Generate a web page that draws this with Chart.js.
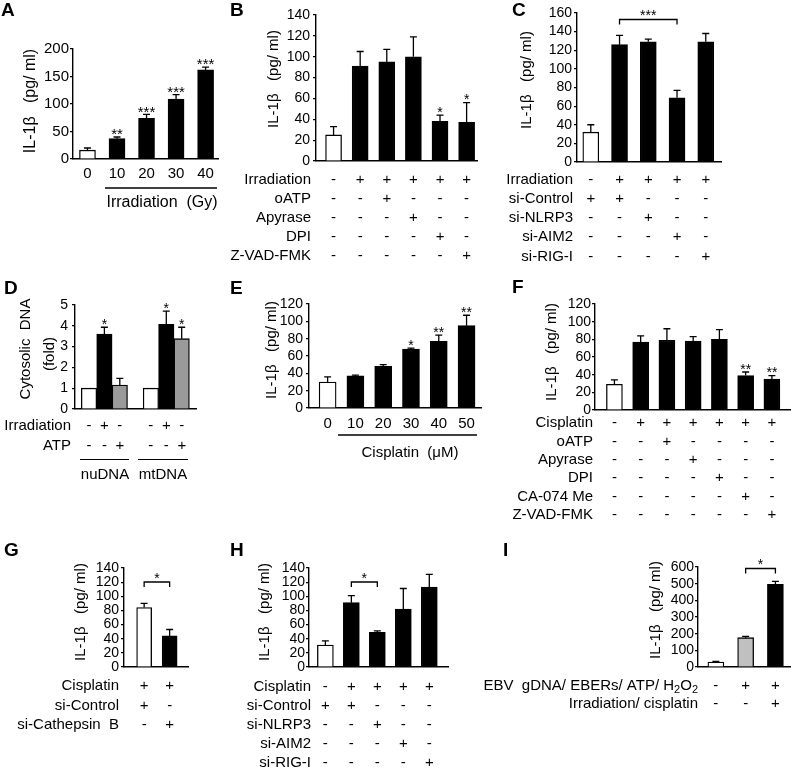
<!DOCTYPE html>
<html>
<head>
<meta charset="utf-8">
<script src="https://cdn.jsdelivr.net/npm/chart.js@4.4.1/dist/chart.umd.min.js"></script>
<style>
  html, body { margin: 0; padding: 0; background: #fff; }
  #figure { position: relative; width: 791px; height: 771px; overflow: hidden; background: #fff; }
  #figure canvas { position: absolute; left: 0; top: 0; }
  .rule { position: absolute; height: 0; border-top: 1px solid #000; z-index: 9; }
  .grp { position: absolute; width: 80px; text-align: center; font: 15px 'Liberation Sans', Arial, sans-serif; line-height: 18px; color: #000; z-index: 9; }
  #pad { position: absolute; left: 0; top: 746px; width: 200px; height: 24px; background: #fff; z-index: 9; }
</style>
</head>
<body>
<div id="figure"></div>
<script>
// ---------- values ----------
// A: irradiation dose (Gy)
const doseLabels = ['0', '10', '20', '30', '40'];
const doseIL1b = [16, 37, 74, 109, 162];
const doseErr = [4, 3, 7, 8, 5];
const doseSig = ['', '**', '***', '***', '***'];
// B: irradiation + inhibitors
const bIL1b = [25, 91, 95, 100, 38, 37];
const bErr = [8, 14, 12, 19, 6, 19];
const bSig = ['', '', '', '', '*', '*'];
const bRowNames = ['Irradiation', 'oATP', 'Apyrase', 'DPI', 'Z-VAD-FMK'];
const bRows = ['-+++++', '--+---', '---+--', '----+-', '-----+'];
// C: irradiation + siRNA
const cIL1b = [32, 126, 129, 69, 129];
const cErr = [8, 10, 3, 8, 9];
const cRowNames = ['Irradiation', 'si-Control', 'si-NLRP3', 'si-AIM2', 'si-RIG-I'];
const cRows = ['-++++', '++---', '--+--', '---+-', '----+'];
const cBracket = [2, 4, '***'];
// D: cytosolic DNA (fold)
const dGroups = ['nuDNA', 'mtDNA'];
const dControl = [1, 1];
const dIrr = [3.6, 4.07];
const dIrrErr = [0.33, 0.64];
const dIrrSig = ['*', '*'];
const dAtp = [1.15, 3.38];
const dAtpErr = [0.32, 0.55];
const dAtpSig = ['', '*'];
const dRowNames = ['Irradiation', 'ATP'];
const dRows = ['-+--+-', '--+--+'];
// E: cisplatin dose (uM)
const cisLabels = ['0', '10', '20', '30', '40', '50'];
const eIL1b = [30, 37, 48, 68, 77, 95];
const eErr = [6, 1, 2, 1, 7, 12];
const eSig = ['', '', '', '*', '**', '**'];
// F: cisplatin + inhibitors
const fIL1b = [29, 77, 79, 78, 80, 39, 35];
const fErr = [5, 7, 13, 5, 11, 4, 4];
const fSig = ['', '', '', '', '', '**', '**'];
const fRowNames = ['Cisplatin', 'oATP', 'Apyrase', 'DPI', 'CA-074 Me', 'Z-VAD-FMK'];
const fRows = ['-++++++', '--+----', '---+---', '----+--', '-----+-', '------+'];
// G: cathepsin B knockdown
const gIL1b = [84, 44];
const gErr = [6, 9];
const gRowNames = ['Cisplatin', 'si-Control', 'si-Cathepsin  B'];
const gRows = ['++', '+-', '-+'];
const gBracket = [1, 2, '*'];
// H: cisplatin + siRNA
const hIL1b = [31, 91, 49, 82, 113];
const hErr = [6, 10, 2, 29, 18];
const hRowNames = ['Cisplatin', 'si-Control', 'si-NLRP3', 'si-AIM2', 'si-RIG-I'];
const hRows = ['-++++', '++---', '--+--', '---+-', '----+'];
const hBracket = [2, 3, '*'];
// I: EBV components
const iIL1b = [30, 176, 496];
const iErr = [4, 8, 18];
const iRowNames = ['EBV  gDNA/ EBERs/ ATP/ H₂O₂', 'Irradiation/ cisplatin'];
const iRows = ['-++', '--+'];
const iBracket = [2, 3, '*'];

// ---------- drawing ----------
const W = 791, H = 771, YBOX = 40;
const FONT = "'Liberation Sans', Arial, Helvetica, sans-serif";
const BLACK = '#000', WHITE = '#fff';
Chart.defaults.font.family = FONT;
Chart.defaults.color = BLACK;
const fig = document.getElementById('figure');
const charts = [];

function idx(arr) { return arr.map((v, i) => i + 1); }

function series(values, errors, stars, fills, xs) {
  return {
    data: values.map((v, i) => ({ x: xs ? xs[i] : i + 1, y: v })),
    errors, stars,
    backgroundColor: fills, borderColor: BLACK, borderWidth: 1.3
  };
}

// right aligned label, unicode subscript digits drawn small and lowered
function drawRich(ctx, text, xRight, y, size) {
  const subs = '₀₁₂₃₄₅₆₇₈₉';
  const parts = [];
  for (const ch of text) {
    const k = subs.indexOf(ch);
    if (k >= 0) parts.push({ t: String(k), sub: true });
    else if (parts.length && !parts[parts.length - 1].sub) parts[parts.length - 1].t += ch;
    else parts.push({ t: ch, sub: false });
  }
  const subSize = Math.round(size * 0.7);
  let total = 0;
  parts.forEach(p => { ctx.font = (p.sub ? subSize : size) + 'px ' + FONT; p.w = ctx.measureText(p.t).width; total += p.w; });
  let x = xRight - total;
  ctx.textAlign = 'left';
  ctx.textBaseline = 'middle';
  parts.forEach(p => {
    ctx.font = (p.sub ? subSize : size) + 'px ' + FONT;
    ctx.fillText(p.t, x, p.sub ? y + 4 : y);
    x += p.w;
  });
}

function extras(p) {
  return {
    id: 'extras',
    afterDatasetsDraw(chart) {
      const ctx = chart.ctx, xs = chart.scales.x, ys = chart.scales.y;
      const starSize = p.starSize || 14;
      ctx.save();
      ctx.strokeStyle = BLACK;
      ctx.fillStyle = BLACK;
      ctx.lineWidth = 1.3;

      // upper error bars + stars
      chart.data.datasets.forEach((ds, di) => {
        chart.getDatasetMeta(di).data.forEach((bar, i) => {
          let top = bar.y;
          const err = ds.errors ? ds.errors[i] : 0;
          if (err) {
            top = ys.getPixelForValue(ds.data[i].y + err);
            ctx.beginPath();
            ctx.moveTo(bar.x, bar.y); ctx.lineTo(bar.x, top);
            ctx.moveTo(bar.x - 3.5, top); ctx.lineTo(bar.x + 3.5, top);
            ctx.stroke();
          }
          const star = ds.stars ? ds.stars[i] : '';
          if (star) {
            ctx.font = starSize + 'px ' + FONT;
            ctx.textAlign = 'center';
            ctx.textBaseline = 'alphabetic';
            ctx.fillText(star, bar.x, top - 4 + 0.42 * starSize);
          }
        });
      });

      if (p.bracket) {
        const [from, to, label] = p.bracket.pair;
        const x1 = xs.getPixelForValue(from), x2 = xs.getPixelForValue(to), y = p.bracket.y;
        ctx.beginPath();
        ctx.moveTo(x1, y + 5); ctx.lineTo(x1, y); ctx.lineTo(x2, y); ctx.lineTo(x2, y + 5);
        ctx.stroke();
        ctx.font = starSize + 'px ' + FONT;
        ctx.textAlign = 'center';
        ctx.textBaseline = 'alphabetic';
        ctx.fillText(label, (x1 + x2) / 2, y - 5 + 0.42 * starSize);
      }

      (p.titles || []).forEach(t => {
        ctx.save();
        ctx.translate(t.x, t.y);
        ctx.rotate(-Math.PI / 2);
        ctx.font = (t.size || 15) + 'px ' + FONT;
        ctx.textAlign = 'center';
        ctx.textBaseline = 'middle';
        ctx.fillText(t.text, 0, 0);
        ctx.restore();
      });

      // treatment +/- table
      if (p.rows) {
        p.rows.names.forEach((name, r) => {
          const y = p.rows.y[r];
          drawRich(ctx, name, p.rows.labelX, y, 15);
          ctx.font = '15px ' + FONT;
          ctx.textAlign = 'center';
          ctx.textBaseline = 'middle';
          p.rows.signs[r].split('').forEach((s, k) => ctx.fillText(s, xs.getPixelForValue(p.positions[k]), y));
        });
      }

      (p.lines || []).forEach(l => {
        ctx.beginPath(); ctx.moveTo(l[0], l[1]); ctx.lineTo(l[2], l[3]); ctx.stroke();
      });
      (p.texts || []).forEach(t => {
        ctx.font = (t.size || 15) + 'px ' + FONT;
        ctx.textAlign = t.align || 'center';
        ctx.textBaseline = 'middle';
        ctx.fillText(t.text, t.x, t.y);
      });

      ctx.font = 'bold 19px ' + FONT;
      ctx.textAlign = 'left';
      ctx.textBaseline = 'middle';
      ctx.fillText(p.letter, p.letterXY[0], p.letterXY[1]);
      ctx.restore();
    }
  };
}

function makePanel(p) {
  const canvas = document.createElement('canvas');
  canvas.width = W;
  canvas.height = H;
  fig.appendChild(canvas);
  const [L, T, R, B] = p.area;
  const xBox = p.xLabels ? 30 : 0;
  p.datasets.forEach(ds => { ds.barThickness = p.barW; });
  const chart = new Chart(canvas, {
    type: 'bar',
    data: { datasets: p.datasets },
    options: {
      responsive: false,
      animation: false,
      events: [],
      layout: { padding: { left: L - YBOX, top: T, right: W - R, bottom: H - B - xBox } },
      plugins: { legend: { display: false }, tooltip: { enabled: false } },
      scales: {
        x: {
          type: 'linear', min: p.xMin, max: p.xMax, offset: false, bounds: 'data',
          grid: { display: false, drawTicks: false, offset: false },
          border: { color: BLACK, width: 1.4 },
          ticks: {
            display: !!p.xLabels, color: BLACK, font: { size: 15 }, padding: p.xTickPad || 6,
            maxRotation: 0, autoSkip: false,
            callback: v => (p.xLabels ? p.xLabels[v - 1] : '')
          },
          afterBuildTicks: s => { s.ticks = p.positions.map(v => ({ value: v })); },
          afterFit: s => { s.height = xBox; }
        },
        y: {
          min: 0, max: p.yMax,
          ticks: { stepSize: p.yStep, autoSkip: false, color: BLACK, font: { size: p.yTickSize || 14 }, padding: p.yTickPad },
          grid: { drawOnChartArea: false, tickLength: 3, color: BLACK, lineWidth: 1.2 },
          border: { color: BLACK, width: 1.4 },
          afterFit: s => { s.width = YBOX; }
        }
      }
    },
    plugins: [extras(p)]
  });
  charts.push(chart);
  return chart;
}

const ilTitle = 'IL-1β   (pg/ ml)';
const oneWhite = n => [WHITE].concat(Array(n - 1).fill(BLACK));
const dSlot = (k) => dGroups.map((g, gi) => gi * 4 + k);

makePanel({
  letter: 'A', letterXY: [1, 11], area: [73, 49, 218, 159], xMin: 0.51, xMax: 5.42,
  yMax: 200, yStep: 50, yTickSize: 15, yTickPad: 1, barW: 16, starSize: 15,
  datasets: [series(doseIL1b, doseErr, doseSig, oneWhite(doseIL1b.length))],
  positions: idx(doseLabels), xLabels: doseLabels, xTickPad: 6,
  titles: [{ text: ilTitle, x: 31, y: 101, size: 16 }],
  lines: [[105, 188, 217, 188]],
  texts: [{ text: 'Irradiation  (Gy)', x: 162, y: 203, size: 16 }]
});

makePanel({
  letter: 'B', letterXY: [230, 11], area: [316, 15, 477, 161], xMin: 0.34, xMax: 6.39,
  yMax: 140, yStep: 20, yTickPad: 3, barW: 16,
  datasets: [series(bIL1b, bErr, bSig, oneWhite(bIL1b.length))], positions: idx(bIL1b),
  rows: { names: bRowNames, signs: bRows, y: [180, 199, 218, 237, 256], labelX: 311 },
  titles: [{ text: ilTitle, x: 274, y: 79 }]
});

makePanel({
  letter: 'C', letterXY: [512, 11], area: [577, 13, 721, 162], xMin: 0.52, xMax: 5.53,
  yMax: 160, yStep: 20, yTickPad: 2, barW: 16,
  datasets: [series(cIL1b, cErr, null, oneWhite(cIL1b.length))], positions: idx(cIL1b),
  bracket: { pair: cBracket, y: 19.5 },
  rows: { names: cRowNames, signs: cRows, y: [180, 199, 218, 237, 256.5], labelX: 573 },
  titles: [{ text: ilTitle, x: 527, y: 80 }]
});

makePanel({
  letter: 'D', letterXY: [4, 289], area: [75, 305, 196, 409], xMin: 0.1, xMax: 7.92,
  yMax: 5, yStep: 1, yTickPad: 4, barW: 15.4,
  datasets: [
    series(dControl, null, null, WHITE, dSlot(2)),
    series(dIrr, dIrrErr, dIrrSig, BLACK, dSlot(2)),
    series(dAtp, dAtpErr, dAtpSig, '#9a9a9a', dSlot(2))
  ],
  positions: [1, 2, 3, 5, 6, 7],
  rows: { names: dRowNames, signs: dRows, y: [426, 446], labelX: 71 },
  titles: [{ text: 'Cytosolic  DNA', x: 26, y: 349 }, { text: '(fold)', x: 50, y: 354 }]
});

makePanel({
  letter: 'E', letterXY: [230, 289], area: [309, 304, 481, 408], xMin: 0.33, xMax: 6.52,
  yMax: 120, yStep: 20, yTickPad: 3, barW: 17,
  datasets: [series(eIL1b, eErr, eSig, oneWhite(eIL1b.length))],
  positions: idx(cisLabels), xLabels: cisLabels, xTickPad: 7,
  titles: [{ text: ilTitle, x: 272, y: 350 }],
  lines: [[338, 435, 477, 435]],
  texts: [{ text: 'Cisplatin  (μM)', x: 410, y: 453 }]
});

makePanel({
  letter: 'F', letterXY: [512, 288], area: [595, 304, 790, 410], xMin: 0.26, xMax: 7.69,
  yMax: 120, yStep: 20, yTickPad: 1, barW: 16,
  datasets: [series(fIL1b, fErr, fSig, oneWhite(fIL1b.length))], positions: idx(fIL1b),
  rows: { names: fRowNames, signs: fRows, y: [423, 442, 460, 478, 497, 515], labelX: 593 },
  titles: [{ text: ilTitle, x: 552, y: 352 }]
});

makePanel({
  letter: 'G', letterXY: [4, 551], area: [124, 568, 188, 667], xMin: 0.21, xMax: 2.72,
  yMax: 140, yStep: 20, yTickPad: 2, barW: 15,
  datasets: [series(gIL1b, gErr, null, [WHITE, BLACK])], positions: idx(gIL1b),
  bracket: { pair: gBracket, y: 582 },
  rows: { names: gRowNames, signs: gRows, y: [686, 706, 725], labelX: 119 },
  titles: [{ text: ilTitle, x: 81, y: 612 }]
});

makePanel({
  letter: 'H', letterXY: [230, 551], area: [309, 568, 448, 667], xMin: 0.37, xMax: 5.72,
  yMax: 140, yStep: 20, yTickPad: 1, barW: 16,
  datasets: [series(hIL1b, hErr, null, oneWhite(hIL1b.length))], positions: idx(hIL1b),
  bracket: { pair: hBracket, y: 582 },
  rows: { names: hRowNames, signs: hRows, y: [687, 706, 725, 744, 763], labelX: 311 },
  titles: [{ text: ilTitle, x: 265, y: 612 }]
});

makePanel({
  letter: 'I', letterXY: [503, 551], area: [698, 567, 790, 667], xMin: 0.4, xMax: 3.49,
  yMax: 600, yStep: 100, yTickPad: 1, barW: 16,
  datasets: [series(iIL1b, iErr, null, [WHITE, '#c0c0c0', BLACK])], positions: idx(iIL1b),
  bracket: { pair: iBracket, y: 568.5 },
  rows: { names: iRowNames, signs: iRows, y: [686, 704], labelX: 698 },
  titles: [{ text: ilTitle, x: 656, y: 610 }]
});

// D group captions under the +/- table, as page text
const dRule = [[80, 49], [138, 50]];
const dCapX = [105, 163];
dGroups.forEach((g, gi) => {
  const rule = document.createElement('div');
  rule.className = 'rule';
  rule.style.left = dRule[gi][0] + 'px';
  rule.style.top = '459px';
  rule.style.width = dRule[gi][1] + 'px';
  fig.appendChild(rule);
  const cap = document.createElement('div');
  cap.className = 'grp';
  cap.textContent = g;
  cap.style.left = (dCapX[gi] - 40) + 'px';
  cap.style.top = '465px';
  fig.appendChild(cap);
});
const pad = document.createElement('div');
pad.id = 'pad';
fig.appendChild(pad);
</script>
</body>
</html>
